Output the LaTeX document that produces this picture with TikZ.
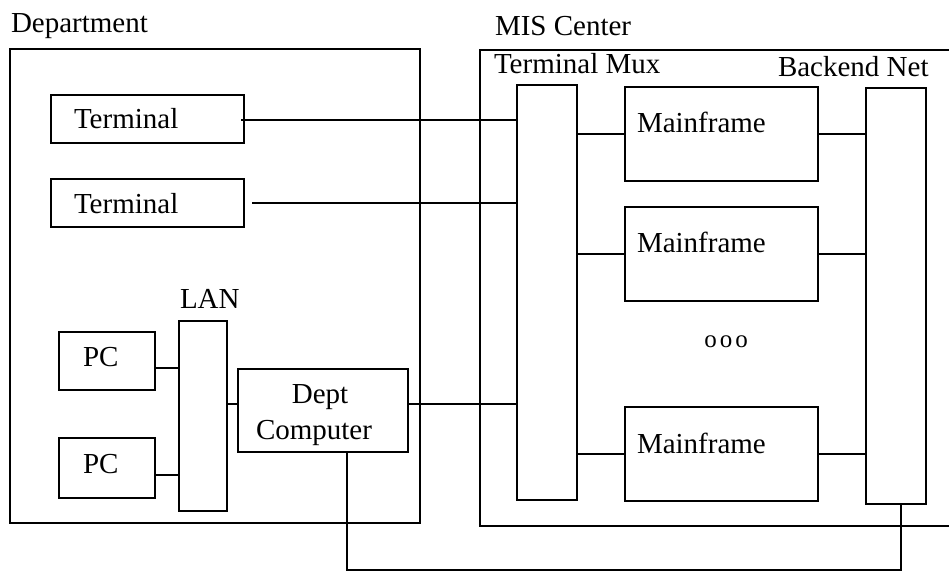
\documentclass[tikz,border=0pt]{standalone}
\usepackage{fontspec}
\setmainfont{Liberation Serif}
\begin{document}
\begin{tikzpicture}[x=1pt,y=-1pt,line width=2pt,
  box/.style={draw,line width=2pt,inner sep=0pt,anchor=north west},
  lbl/.style={inner sep=0pt,anchor=base west,font=\fontsize{29}{34}\selectfont},
  clbl/.style={inner sep=0pt,anchor=base,font=\fontsize{29}{34}\selectfont},
  wire/.style={line width=1.8pt}]
\useasboundingbox (0,0) rectangle (949,572);
% frames
\node[box,minimum width=410pt,minimum height=474pt] (deptframe) at (9,48) {};
\coordinate (misTR) at (952,50);
\coordinate (misBR) at (952,526);
\draw (misTR) -- (480,50) -- (480,526) -- (misBR);
\node[lbl] (deptlbl) at (10,33) {Department};
\node[lbl] (mislbl) at (494,36) {MIS Center};
% department boxes
\node[box,minimum width=193pt,minimum height=48pt] (t1) at (50,94) {};
\node[box,minimum width=193pt,minimum height=48pt] (t2) at (50,178) {};
\node[box,minimum width=96pt,minimum height=58pt] (pc1) at (58,331) {};
\node[box,minimum width=96pt,minimum height=60pt] (pc2) at (58,437) {};
\node[box,minimum width=48pt,minimum height=190pt] (lan) at (178,320) {};
\node[box,minimum width=170pt,minimum height=83pt] (dc) at (237,368) {};
\node[lbl] (t1lbl) at (73,129) {Terminal};
\node[lbl] (t2lbl) at (73,213) {Terminal};
\node[lbl] (pc1lbl) at (82,366) {PC};
\node[lbl] (pc2lbl) at (82,473) {PC};
\node[lbl] (lanlbl) at (179,308) {LAN};
\node[clbl] (dclbl1) at (320,403) {Dept};
\node[clbl] (dclbl2) at (314,439) {Computer};
% MIS boxes
\node[box,minimum width=60pt,minimum height=415pt] (mux) at (516,84) {};
\node[box,minimum width=193pt,minimum height=94pt] (mf1) at (624,86) {};
\node[box,minimum width=193pt,minimum height=94pt] (mf2) at (624,206) {};
\node[box,minimum width=193pt,minimum height=94pt] (mf3) at (624,406) {};
\node[box,minimum width=60pt,minimum height=416pt] (bk) at (865,87) {};
\node[lbl] (muxlbl) at (493,74) {Terminal Mux};
\node[lbl] (bklbl) at (777,77) {Backend Net};
\node[lbl] (mf1lbl) at (636,133) {Mainframe};
\node[lbl] (mf2lbl) at (636,252) {Mainframe};
\node[lbl] (mf3lbl) at (636,453) {Mainframe};
\node[inner sep=0pt,font=\fontsize{25}{30}\selectfont] (dots) at (726,342) {o\hspace{3pt}o\hspace{3pt}o};
% connectors
\draw[wire] ([xshift=-4pt,yshift=-1pt]t1.east) -- ([yshift=-1pt]t1.east -| mux.west);
\draw[wire] ([xshift=7pt]t2.east) -- (t2.east -| mux.west);
\draw[wire] ([yshift=-7pt]pc1.east) -- ([yshift=-7pt]pc1.east -| lan.west);
\draw[wire] ([yshift=-7pt]pc2.east) -- ([yshift=-7pt]pc2.east -| lan.west);
\draw[wire] ([yshift=6.5pt]dc.west) -- ([yshift=6.5pt]dc.west -| lan.east);
\draw[wire] ([yshift=6.5pt]dc.east) -- ([yshift=6.5pt]dc.east -| mux.west);
\draw[wire] (mf1.west -| mux.east) -- (mf1.west);
\draw[wire] (mf2.west -| mux.east) -- (mf2.west);
\draw[wire] (mf3.west -| mux.east) -- (mf3.west);
\draw[wire] (mf1.east) -- (mf1.east -| bk.west);
\draw[wire] (mf2.east) -- (mf2.east -| bk.west);
\draw[wire] (mf3.east) -- (mf3.east -| bk.west);
\coordinate (floor) at (0,570);
\draw[wire] ([xshift=24pt]dc.south) |- ([xshift=5pt]bk.south |- floor) -- ([xshift=5pt]bk.south);
\end{tikzpicture}
\end{document}
